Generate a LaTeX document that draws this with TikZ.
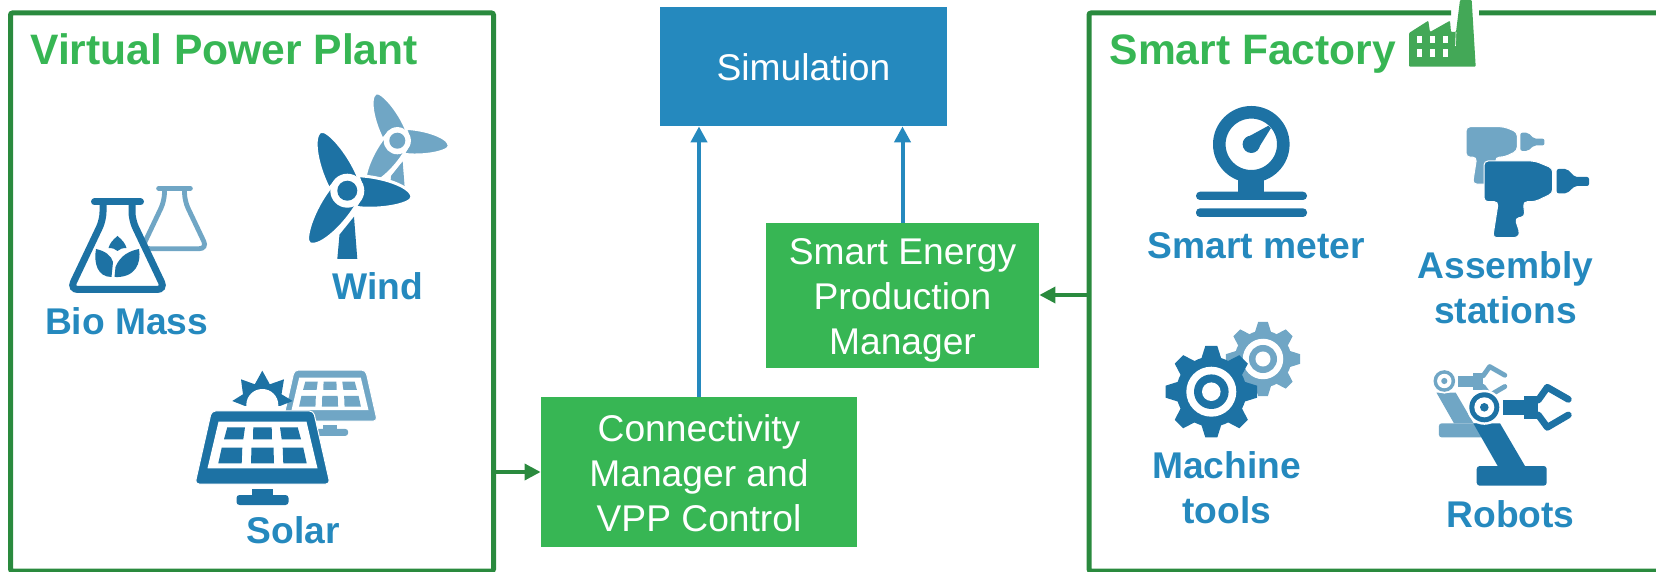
\documentclass[tikz,border=0pt]{standalone}
\usepackage{fontspec}
\setmainfont{Liberation Sans}
\usepackage{xcolor}
\usetikzlibrary{positioning,arrows.meta}
\definecolor{boxgreen}{HTML}{37B654}
\definecolor{linegreen}{HTML}{2A8A3E}
\definecolor{factorygreen}{HTML}{43A857}
\definecolor{boxblue}{HTML}{2589BE}
\definecolor{icondark}{HTML}{1D72A4}
\definecolor{iconlight}{HTML}{70A6C5}
\tikzset{greenbox/.style={fill=boxgreen,text=white,align=center,inner sep=0pt,font=\fontsize{18.6}{22.5}\selectfont}}
\tikzset{bluebox/.style={fill=boxblue,text=white,align=center,inner sep=0pt,font=\fontsize{18.6}{22.5}\selectfont}}
\tikzset{panelline/.style={draw=linegreen,line width=2.5pt,rounded corners=1pt}}
\tikzset{paneltitle/.style={anchor=base west,inner sep=0pt,text=boxgreen,font=\fontsize{21.3}{25}\selectfont\bfseries}}
\tikzset{itemlabel/.style={anchor=base,inner sep=0pt,align=center,text=boxblue,font=\fontsize{18.6}{22.5}\selectfont\bfseries}}
\tikzset{bluearrow/.style={-{Triangle[length=8pt,width=8pt]},draw=boxblue,fill=boxblue,line width=2pt}}
\tikzset{greenarrow/.style={-{Triangle[length=8pt,width=8pt]},draw=linegreen,fill=linegreen,line width=1.75pt}}
\newcommand\flaskicon[4]{\begin{scope}[shift={(#1,#2)},scale=#3]
  \filldraw[fill=white,draw=#4,line width=#3*3.5pt,rounded corners=4pt] (-14.5,-43) -- (-14.5,-25) -- (-47.5,44.5) -- (47.5,44.5) -- (14.5,-25) -- (14.5,-43);
  \draw[#4,line width=#3*3.5pt,line cap=round] (-23,-43) -- (23,-43);
\end{scope}}
\newcommand\leavesicon[3]{\begin{scope}[shift={(#1,#2)}]
  \fill[#3] (0,-9) .. controls (5,-5) and (8,-1) .. (9,3) .. controls (5,3) and (2,4) .. (0,6) .. controls (-2,4) and (-5,3) .. (-9,3) .. controls (-8,-1) and (-5,-5) .. (0,-9) -- cycle;
  \fill[#3] (-21.5,4) .. controls (-12,6) and (-6,11) .. (-4.5,17) -- (-6,32) .. controls (-20,32) and (-24,18) .. (-21.5,4) -- cycle;
  \fill[#3] (21.5,4) .. controls (12,6) and (3,10) .. (-2,22) -- (-3,32) .. controls (18,33) and (24,18) .. (21.5,4) -- cycle;
\end{scope}}
\newcommand\turbineicon[4]{\begin{scope}[shift={(#1,#2)},scale=#3]
  \fill[#4] (6.7,26) -- (10,68.3) -- (-10,68.3) -- (-7.8,44) -- cycle;
  \foreach \a in {-5.5,114.5,234.5}
    \filldraw[fill=#4,draw=white,line width=#3*1.5pt,rotate=\a] (0,-15) .. controls (25,-19) and (63,-12) .. (65,0) .. controls (66,8) and (28,19) .. (0,15) -- cycle;
  \fill[white] (0,0) circle (17);
  \fill[#4] (0,0) circle (10);
\end{scope}}
\newcommand\solaricon[4]{\begin{scope}[shift={(#1,#2)},scale=#3]
  \filldraw[fill=#4,draw=white,line width=.5pt,rounded corners=2pt] (-51,-47) -- (51,-47) -- (67.5,26) -- (-67.5,26) -- cycle;
  \fill[white] (-44,-36.3) -- (44,-36.3) -- (55,10.3) -- (-55,10.3) -- cycle;
  \fill[#4] (-9.2,-30.7) -- (9.2,-30.7) -- (9.5,-18.7) -- (-9.5,-18.7) -- cycle;
  \fill[#4] (-11,-10.3) -- (11,-10.3) -- (11.5,5.3) -- (-11.5,5.3) -- cycle;
  \foreach \s in {-1,1} {
    \fill[#4] ({\s*17.5},-30.7) -- ({\s*35.2},-30.7) -- ({\s*38.5},-18.7) -- ({\s*19.2},-18.7) -- cycle;
    \fill[#4] ({\s*20.2},-10.3) -- ({\s*40.8},-10.3) -- ({\s*44.2},5.3) -- ({\s*20.8},5.3) -- cycle;
  }
  \fill[#4] (-10.5,31) rectangle (10.5,38);
  \fill[#4,rounded corners=1.5pt] (-26,47) -- (-26,37) -- (26,37) -- (26,47) -- cycle;
\end{scope}}
\newcommand\drillicon[4]{\begin{scope}[shift={(#1,#2)},scale=#3]
  \filldraw[fill=#4,draw=white,line width=.5pt,rounded corners=2pt] (-46,-29) -- (5,-29) -- (22.7,-21.7) -- (22.7,3.3) -- (5,11.7) -- (-6.7,11.7) -- (-5,26.7) -- (-15,28.3) -- (-10,43.3) -- (-12,47.7) -- (-37.3,47.7) -- (-31.7,11.7) -- (-46,11.7) -- cycle;
  \fill[#4,rounded corners=1pt] (26.7,-21) -- (37,-21) -- (45,-13) -- (59,-13) -- (59,-4) -- (45,-4) -- (37,3.3) -- (26.7,3.3) -- cycle;
\end{scope}}
\newcommand\gearicon[4]{\begin{scope}[shift={(#1,#2)},scale=#3]
  \foreach \a in {0,45,...,315}
    \fill[#4,rotate=\a] (-10,33) -- (-6,45.7) -- (6,45.7) -- (10,33) -- cycle;
  \fill[#4] (0,0) circle (35);
  \fill[white] (0,0) circle (25);
  \fill[#4] (0,0) circle (17.3);
  \fill[white] (0,0) circle (9.3);
\end{scope}}
\newcommand\roboticon[4]{\begin{scope}[shift={(#1,#2)},scale=#3]
  \fill[#4,rounded corners=1.5pt] (-7.6,58.7) rectangle (62.4,78.4);
  \fill[#4] (-11,16) -- (15.7,16) -- (40.7,58.7) -- (13.4,58.7) -- cycle;
  \fill[white] (0,0) circle (17.5);
  \fill[#4] (0,0) circle (15);
  \fill[white] (0,0) circle (10);
  \fill[#4] (0,0) circle (4.3);
  \fill[#4] (19,-7.3) rectangle (39.7,7.7);
  \fill[#4] (39.7,-11.3) rectangle (54,12);
  \draw[#4,line width=#3*3.4pt,line cap=round,line join=round] (54,-7.3) -- (63,-20) -- (84,-8);
  \draw[#4,line width=#3*3.4pt,line cap=round,line join=round] (54,7.7) -- (63,20) -- (84,7.7);
\end{scope}}
\newcommand\metericon[3]{\begin{scope}[shift={(#1,#2)}]
  \fill[#3] (-13,25) rectangle (13,47.4);
  \filldraw[fill=white,draw=#3,line width=6.3pt] (0,0) circle (32);
  \fill[#3] (0,0) circle (8.7);
  \fill[#3] (-5,-6.5) -- (17,-18.5) -- (19.5,-16) -- (6.5,5) -- cycle;
  \fill[#3,rounded corners=2pt] (-55.3,47.4) rectangle (55.7,55.7);
  \fill[#3,rounded corners=2pt] (-55.3,64) rectangle (55.7,72.7);
\end{scope}}
\newcommand\factoryicon[3]{\begin{scope}[shift={(#1,#2)}]
  \fill[#3,rounded corners=.5pt] (0,33) -- (19.3,20.7) -- (21,32) -- (41,20.7) -- (42,32) -- (47,32) -- (51,0) -- (62.7,0) -- (66.7,66.7) -- (0,66.7) -- cycle;
  \draw[white,line width=.3pt] (47,32) -- (46.5,46);
  \foreach \x in {8,21,34}
    \foreach \y in {36,49.3}
      \fill[white] (\x,\y) rectangle ++(5,7.3);
\end{scope}}

\begin{document}
\begin{tikzpicture}[x=0.5pt,y=-0.5pt]
  \useasboundingbox (0,0) rectangle (1656,572);

  \node[panelline,minimum width=241.5pt,minimum height=279pt,inner sep=0pt] (vpp) at (252,292) {};
  \draw[panelline] (1451,13) -- (1089,13) -- (1089,571) -- (1666,571) -- (1666,13) -- (1479,13);
  \coordinate (fab) at (1087,295);

  \node[bluebox,minimum width=143.5pt,minimum height=59.5pt] (sim) at (803.5,66.5) {\rule{0pt}{14.4pt}Simulation};
  \node[greenbox,minimum width=136.5pt,minimum height=72.5pt] (prod) at (902.5,295.5) {\rule{0pt}{17.7pt}Smart Energy\\Production\\Manager};
  \node[greenbox,minimum width=158pt,minimum height=75pt] (conn) at (699,472) {\rule{0pt}{15pt}Connectivity\\Manager and\\VPP Control};

  \draw[bluearrow] (conn.north) -- (conn.north |- sim.south);
  \draw[bluearrow] (prod.north) -- (prod.north |- sim.south);
  \draw[greenarrow] (vpp.east |- conn.west) -- (conn.west);
  \draw[greenarrow] (fab) -- (prod.east |- fab);

  \node[paneltitle] (vpptitle) at (30,65) {Virtual Power Plant};
  \node[paneltitle] (fabtitle) at (1109.3,65) {Smart Factory};

  \flaskicon{174.5}{218}{.69}{iconlight}
  \flaskicon{117.5}{245}{1}{icondark}
  \leavesicon{117.5}{245}{icondark}
  \node[itemlabel] (bio) at (126.7,335) {Bio Mass};

  \turbineicon{397.3}{140.7}{.8}{iconlight}
  \turbineicon{347.3}{190.7}{1}{icondark}
  \node[itemlabel] (wind) at (377.5,299.5) {Wind};

  \solaricon{330}{403}{.7}{iconlight}
  \fill[icondark] (232.3,401) -- (243,394.3) -- (241,379.3) -- (254.8,384.3) -- (262.3,370.7) -- (269.8,384.3) -- (284,379.3) -- (281.5,394.3) -- (292.7,401) -- (280,406) -- (245,406) -- cycle;
  \fill[white] (262.3,405) circle (16);
  \solaricon{262.5}{458}{1}{icondark}
  \node[itemlabel] (solar) at (293.5,543.5) {Solar};

  \factoryicon{1409}{0}{factorygreen}
  \metericon{1251.3}{144.3}{icondark}
  \node[itemlabel] (meter) at (1256.5,259) {Smart meter};

  \drillicon{1500.4}{148.4}{.747}{iconlight}
  \drillicon{1530}{190}{1}{icondark}
  \node[itemlabel] (station) at (1505.5,324) {Assembly\\stations};

  \gearicon{1263}{359}{.81}{iconlight}
  \gearicon{1211.3}{391.7}{1}{icondark}
  \node[itemlabel] (tools) at (1226.7,523.7) {Machine\\tools};

  \roboticon{1444.3}{381}{.72}{iconlight}
  \roboticon{1484.3}{407.3}{1}{icondark}
  \node[itemlabel] (robots) at (1510.5,527.7) {Robots};
\end{tikzpicture}
\end{document}
